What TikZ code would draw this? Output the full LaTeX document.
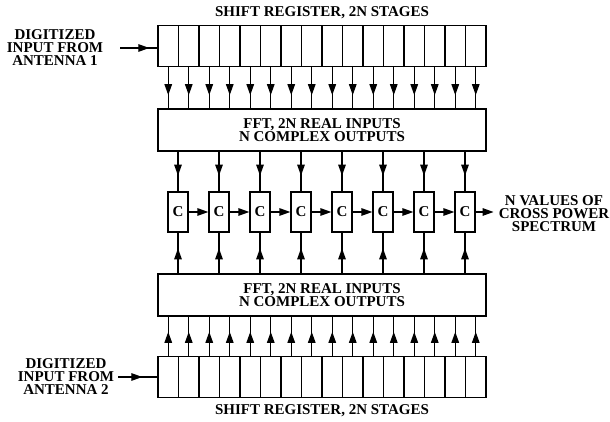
\documentclass[tikz,border=0pt]{standalone}
\usepackage{fontspec}
\setmainfont{Liberation Serif}
\usetikzlibrary{arrows.meta}

\begin{document}
\begin{tikzpicture}[
      x=1pt, y=1pt,
      every node/.style={font=\fontsize{15}{13}\selectfont\bfseries},
      cell/.style={draw, line width=1.3pt, inner sep=0pt,
        minimum width=20.5pt, minimum height=41pt},
      fftbox/.style={draw, line width=1.3pt, align=center, inner sep=0pt,
        minimum width=328pt, minimum height=42pt},
      cbox/.style={draw, line width=1.3pt, inner sep=0pt,
        minimum width=20pt, minimum height=40pt},
      label/.style={align=center, inner sep=0pt},
      arrow/.style={-{Triangle[length=11pt,width=7.5pt]}, line width=1.3pt},
      wire/.style={line width=1.3pt},
    ]
    \useasboundingbox (0,0) rectangle (610,422);

    % Shift registers, 2N = 16 stages each
    \foreach \i in {1,...,16} {
      \node[cell] (sa\i) at ({158+20.5*(\i-0.5)}, 376) {};
      \node[cell] (sb\i) at ({158+20.5*(\i-0.5)}, 45)  {};
    }
    \node[label] (ta) at (322, 409) {SHIFT REGISTER, 2N STAGES};
    \node[label] (tb) at (322, 11)  {SHIFT REGISTER, 2N STAGES};

    % FFT blocks
    \node[fftbox] (fft1) at (322, 292) {FFT, 2N REAL INPUTS\\N COMPLEX OUTPUTS};
    \node[fftbox] (fft2) at (322, 127) {FFT, 2N REAL INPUTS\\N COMPLEX OUTPUTS};

    % Cross multiplier cells
    \foreach \i in {1,...,8}
      \node[cbox] (c\i) at ({178+41*(\i-1)}, 210) {C};

    % Inputs and output
    \node[label] (in1) at (55, 374) {DIGITIZED\\INPUT FROM\\ANTENNA 1};
    \node[label] (in2) at (66, 45)  {DIGITIZED\\INPUT FROM\\ANTENNA 2};
    \node[label] (out) at (554, 208) {N VALUES OF\\CROSS POWER\\SPECTRUM};

    \coordinate (i1) at ([xshift=17pt]in1.east);
    \coordinate (i2) at ([xshift=4pt]in2.east);
    \draw[wire] (i1) -- (i1 -| sa1.west);
    \draw[arrow] (i1) -- ([xshift=29pt]i1);
    \draw[wire] (i2) -- (i2 -| sb1.west);
    \draw[arrow] (i2) -- ([xshift=24pt]i2);

    % Register taps into the FFTs
    \foreach \i in {1,...,16} {
      \draw[wire] (sa\i.south) -- (sa\i.south |- fft1.north);
      \draw[arrow] (sa\i.south) -- ([yshift=-28pt]sa\i.south);
      \draw[wire] (sb\i.north) -- (sb\i.north |- fft2.south);
      \draw[arrow] (sb\i.north) -- ([yshift=24pt]sb\i.north);
    }

    % FFT outputs into the C cells
    \foreach \i in {1,...,8} {
      \draw[wire] (c\i.north |- fft1.south) -- (c\i.north);
      \draw[arrow] (c\i.north |- fft1.south) -- ([yshift=-24pt]c\i.north |- fft1.south);
      \draw[wire] (c\i.south |- fft2.north) -- (c\i.south);
      \draw[arrow] (c\i.south |- fft2.north) -- ([yshift=25pt]c\i.south |- fft2.north);
    }

    % Chain along the C cells
    \foreach \i [evaluate=\i as \j using int(\i+1)] in {1,...,7}
      \draw[arrow] (c\i.east) -- (c\j.west);
    \draw[arrow] (c8.east) -- ([xshift=-5pt]c8.east -| out.west);
  \end{tikzpicture}
\end{document}
